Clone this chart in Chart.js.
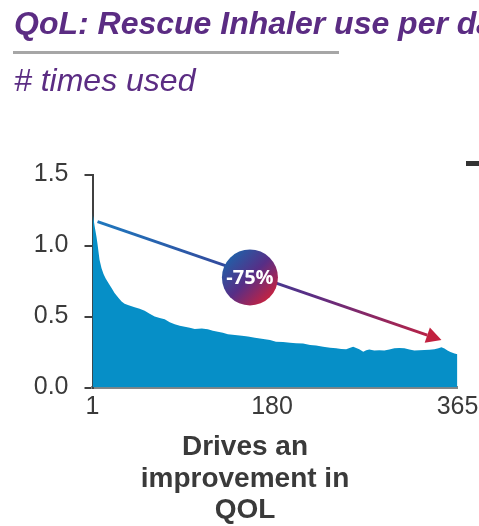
<!DOCTYPE html>
<html>
<head>
<meta charset="utf-8">
<script src="https://cdn.jsdelivr.net/npm/chart.js@4/dist/chart.umd.min.js"></script>
<style>
  html, body { margin: 0; padding: 0; background: #ffffff; overflow: hidden; }
  #wrap { width: 479px; height: 526px; position: relative; }
</style>
</head>
<body>
<div id="wrap"><canvas id="chart" width="479" height="526"></canvas></div>
<script>
// Day of treatment (x) and mean rescue-inhaler uses per day (y)
const days = [1, 2, 3, 4, 5, 6, 8, 10, 12, 14, 17, 20, 23, 27, 30, 33, 37, 43, 48, 53,
  58, 63, 68, 73, 78, 83, 88, 93, 98, 103, 110, 116, 121, 126, 131, 136, 143, 150, 156, 163,
  168, 173, 178, 184, 191, 198, 204, 211, 218, 224, 231, 238, 244, 249, 254, 258, 261, 264, 267, 271,
  274, 277, 282, 287, 292, 297, 302, 307, 312, 317, 322, 327, 332, 337, 342, 346, 349, 352, 355, 358,
  362, 365];
const timesUsed = [1.23, 1.19, 1.14, 1.10, 1.06, 1.01, 0.90, 0.84, 0.80, 0.77, 0.735, 0.70, 0.665, 0.63, 0.605, 0.59, 0.58, 0.565, 0.555, 0.54,
  0.52, 0.50, 0.49, 0.48, 0.46, 0.445, 0.435, 0.428, 0.42, 0.412, 0.415, 0.41, 0.40, 0.393, 0.385, 0.375, 0.37, 0.365, 0.36, 0.35,
  0.345, 0.34, 0.335, 0.323, 0.32, 0.315, 0.312, 0.31, 0.30, 0.295, 0.287, 0.28, 0.276, 0.272, 0.27, 0.28, 0.287, 0.278, 0.27, 0.252,
  0.262, 0.268, 0.26, 0.262, 0.26, 0.268, 0.276, 0.278, 0.276, 0.268, 0.26, 0.262, 0.264, 0.266, 0.27, 0.276, 0.283, 0.275, 0.26, 0.25,
  0.24, 0.235];

// Axis ticks
const xTickValues = [1, 180, 365];
const yTickValues = [0, 0.5, 1.0, 1.5];

// Texts
const titleText = 'QoL: Rescue Inhaler use per day';
const subtitleText = '# times used';
const footerLines = ['Drives an', 'improvement in', 'QOL'];
const changeLabel = '-75%';

// Trend arrow and badge, in data units
const trendStart = { x: 6, y: 1.168 };
const trendEnd = { x: 349, y: 0.334 };
const badgeAt = { x: 158, y: 0.775 };

const PURPLE = '#5B2C83';
const TEXT_DARK = '#3a3a3a';

const decorations = {
  id: 'decorations',
  beforeDraw(chart) {
    const ctx = chart.ctx;
    ctx.save();
    // Title
    ctx.fillStyle = PURPLE;
    ctx.textAlign = 'left';
    ctx.textBaseline = 'alphabetic';
    ctx.font = 'italic bold 32px "Liberation Sans", Arial, sans-serif';
    ctx.fillText(titleText, 14, 34);
    // Rule under title
    ctx.strokeStyle = '#A6A6A6';
    ctx.lineWidth = 3;
    ctx.beginPath();
    ctx.moveTo(13, 52.5);
    ctx.lineTo(339, 52.5);
    ctx.stroke();
    // Subtitle
    ctx.font = 'italic 32px "Liberation Sans", Arial, sans-serif';
    ctx.fillText(subtitleText, 14, 91);
    // Neighbouring panel edge (cut off at right)
    ctx.fillStyle = '#333333';
    ctx.fillRect(466, 161, 13, 5);
    // Footer caption
    ctx.fillStyle = TEXT_DARK;
    ctx.textAlign = 'center';
    ctx.font = 'bold 28px "Liberation Sans", Arial, sans-serif';
    const baselines = [455, 487, 518];
    footerLines.forEach((t, i) => ctx.fillText(t, 245, baselines[i]));
    ctx.restore();
  },
  afterDatasetsDraw(chart) {
    const ctx = chart.ctx;
    const xs = chart.scales.x, ys = chart.scales.y;
    const x0 = xs.getPixelForValue(trendStart.x), y0 = ys.getPixelForValue(trendStart.y);
    const x1 = xs.getPixelForValue(trendEnd.x), y1 = ys.getPixelForValue(trendEnd.y);
    const ang = Math.atan2(y1 - y0, x1 - x0);
    const headLen = 15, headHalf = 8;
    const bx = x1 - headLen * Math.cos(ang), by = y1 - headLen * Math.sin(ang);

    const grad = ctx.createLinearGradient(x0, y0, x1, y1);
    grad.addColorStop(0, '#1E78BE');
    grad.addColorStop(0.4, '#34469A');
    grad.addColorStop(0.62, '#5A2D84');
    grad.addColorStop(1, '#C2213F');

    ctx.save();
    ctx.strokeStyle = grad;
    ctx.lineWidth = 3;
    ctx.lineCap = 'butt';
    ctx.beginPath();
    ctx.moveTo(x0, y0);
    ctx.lineTo(bx, by);
    ctx.stroke();
    // Arrow head
    ctx.fillStyle = '#C2213F';
    ctx.beginPath();
    ctx.moveTo(x1, y1);
    ctx.lineTo(bx + headHalf * Math.sin(ang), by - headHalf * Math.cos(ang));
    ctx.lineTo(bx - headHalf * Math.sin(ang), by + headHalf * Math.cos(ang));
    ctx.closePath();
    ctx.fill();

    // Badge
    const cx = xs.getPixelForValue(badgeAt.x), cy = ys.getPixelForValue(badgeAt.y);
    const r = 28;
    const bg = ctx.createLinearGradient(cx - r * 0.75, cy - r * 0.75, cx + r * 0.75, cy + r * 0.75);
    bg.addColorStop(0, '#2160A8');
    bg.addColorStop(0.5, '#572E86');
    bg.addColorStop(1, '#C8223F');
    ctx.fillStyle = bg;
    ctx.beginPath();
    ctx.arc(cx, cy, r, 0, Math.PI * 2);
    ctx.fill();
    ctx.fillStyle = '#ffffff';
    ctx.textAlign = 'center';
    ctx.textBaseline = 'middle';
    ctx.font = 'bold 20px "Open Sans", "Liberation Sans", sans-serif';
    ctx.fillText(changeLabel, cx, cy + 1);
    ctx.restore();
  }
};

new Chart(document.getElementById('chart'), {
  type: 'line',
  data: {
    datasets: [{
      data: days.map((d, i) => ({ x: d, y: timesUsed[i] })),
      fill: 'origin',
      backgroundColor: '#068FC7',
      borderWidth: 0,
      borderColor: 'rgba(0,0,0,0)',
      pointRadius: 0,
      tension: 0
    }]
  },
  options: {
    responsive: false,
    devicePixelRatio: 1,
    animation: false,
    layout: { padding: { top: 174.5, right: 21.5, left: 0, bottom: 0 } },
    plugins: { legend: { display: false }, tooltip: { enabled: false }, title: { display: false } },
    scales: {
      x: {
        type: 'linear',
        min: 1,
        max: 365,
        afterFit(scale) {
          scale.height = 526 - 387.5;
          scale.paddingLeft = 0;
          scale.paddingRight = 0;
        },
        afterBuildTicks(scale) { scale.ticks = xTickValues.map(v => ({ value: v })); },
        grid: { display: false, drawTicks: false },
        border: { display: true, color: '#858585', width: 3 },
        ticks: {
          color: TEXT_DARK,
          font: { family: '"Liberation Sans", Arial, sans-serif', size: 25 },
          padding: 5,
          maxRotation: 0,
          autoSkip: false,
          callback: v => String(v)
        }
      },
      y: {
        min: 0,
        max: 1.5,
        afterFit(scale) {
          scale.width = 92.5;
          scale.paddingTop = 0;
          scale.paddingBottom = 0;
        },
        afterBuildTicks(scale) { scale.ticks = yTickValues.map(v => ({ value: v })); },
        grid: { display: true, drawOnChartArea: false, drawTicks: true, tickLength: 8, color: '#404040', lineWidth: 2 },
        border: { display: true, color: '#404040', width: 2 },
        ticks: {
          color: TEXT_DARK,
          font: { family: '"Liberation Sans", Arial, sans-serif', size: 25 },
          padding: 16,
          callback: v => Number(v).toFixed(1)
        }
      }
    }
  },
  plugins: [decorations]
});
</script>
</body>
</html>
